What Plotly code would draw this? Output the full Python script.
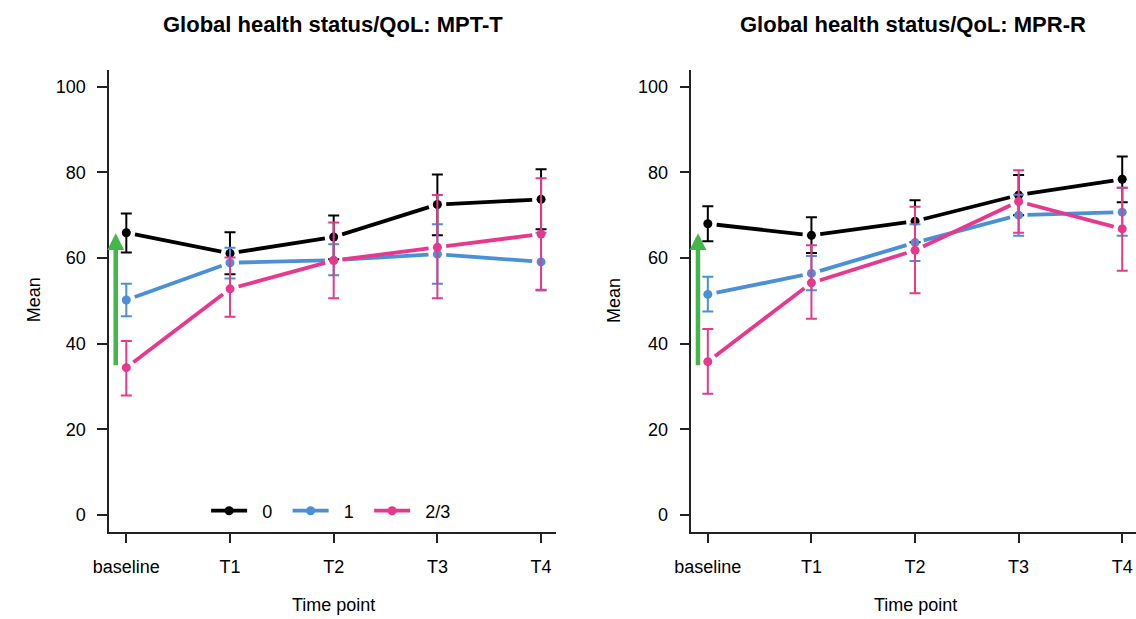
import math
import plotly.graph_objects as go

# ---------------- data ----------------
time_labels = ["baseline", "T1", "T2", "T3", "T4"]
time_pos = [1, 2, 3, 4, 5]
groups = ["0", "1", "2/3"]

# Left panel: MPT-T
mpt_mean_0 = [65.9, 61.1, 64.9, 72.5, 73.7]
mpt_upper_0 = [70.4, 66.0, 69.9, 79.5, 80.7]
mpt_lower_0 = [61.3, 56.2, 59.7, 65.3, 66.7]
mpt_mean_1 = [50.2, 58.9, 59.5, 60.9, 59.1]
mpt_upper_1 = [54.0, 62.4, 63.2, 67.9, 65.9]
mpt_lower_1 = [46.4, 55.2, 56.0, 54.0, 52.4]
mpt_mean_23 = [34.4, 52.8, 59.4, 62.5, 65.6]
mpt_upper_23 = [40.6, 60.1, 68.3, 74.7, 78.6]
mpt_lower_23 = [27.9, 46.3, 50.6, 50.6, 52.6]

# Right panel: MPR-R
mpr_mean_0 = [68.0, 65.3, 68.6, 74.7, 78.4]
mpr_upper_0 = [72.1, 69.5, 73.5, 79.4, 83.7]
mpr_lower_0 = [63.9, 61.2, 63.7, 70.0, 73.0]
mpr_mean_1 = [51.5, 56.4, 63.6, 70.0, 70.7]
mpr_upper_1 = [55.6, 60.5, 67.9, 74.8, 76.4]
mpr_lower_1 = [47.5, 52.5, 59.3, 65.2, 65.2]
mpr_mean_23 = [35.8, 54.2, 61.8, 73.2, 66.8]
mpr_upper_23 = [43.4, 63.0, 72.0, 80.5, 76.4]
mpr_lower_23 = [28.3, 45.8, 51.8, 65.9, 57.0]

# green arrow (baseline shift) start / end values
arrow_from = 34.6
arrow_to = 65.8

titles = ["Global health status/QoL: MPT-T", "Global health status/QoL: MPR-R"]

# ---------------- styling ----------------
W, H = 1136, 619
FONT = "Liberation Sans, Arial, sans-serif"
colors = ["#000000", "#4A90D6", "#E8388D"]
GREEN = "#45B649"

panels = [
    dict(means=[mpt_mean_0, mpt_mean_1, mpt_mean_23],
         uppers=[mpt_upper_0, mpt_upper_1, mpt_upper_23],
         lowers=[mpt_lower_0, mpt_lower_1, mpt_lower_23],
         xdom=[93.5 / W, 547.5 / W], xrange=[0.834, 5.147],
         arrow_x=0.898, title_x=320.5 / W, mean_x=17.5 / W),
    dict(means=[mpr_mean_0, mpr_mean_1, mpr_mean_23],
         uppers=[mpr_upper_0, mpr_upper_1, mpr_upper_23],
         lowers=[mpr_lower_0, mpr_lower_1, mpr_lower_23],
         xdom=[684.7 / W, 1.0], xrange=[0.842, 5.133],
         arrow_x=0.905, title_x=910 / W, mean_x=606 / W),
]
ydom = [1 - 531.7 / H, 1 - 70 / H]
yrange = [-3.9, 103.9]


def gapped(xs, ys, pxx, pxy, gap=9.0):
    gx, gy = [], []
    for i in range(len(xs) - 1):
        dx = (xs[i + 1] - xs[i]) * pxx
        dy = (ys[i + 1] - ys[i]) * pxy
        L = math.hypot(dx, dy)
        f = gap / L
        gx += [xs[i] + (xs[i + 1] - xs[i]) * f, xs[i + 1] - (xs[i + 1] - xs[i]) * f, None]
        gy += [ys[i] + (ys[i + 1] - ys[i]) * f, ys[i + 1] - (ys[i + 1] - ys[i]) * f, None]
    return gx, gy


fig = go.Figure()
annotations = []

for p_i, p in enumerate(panels):
    xa = "x" if p_i == 0 else "x2"
    ya = "y" if p_i == 0 else "y2"
    pxx = (p["xdom"][1] - p["xdom"][0]) * W / (p["xrange"][1] - p["xrange"][0])
    pxy = (ydom[1] - ydom[0]) * H / (yrange[1] - yrange[0])
    for g_i in range(3):
        m = p["means"][g_i]
        up = [u - v for u, v in zip(p["uppers"][g_i], m)]
        dn = [v - l for v, l in zip(m, p["lowers"][g_i])]
        gx, gy = gapped(time_pos, m, pxx, pxy)
        fig.add_trace(go.Scatter(
            x=gx, y=gy, mode="lines", xaxis=xa, yaxis=ya,
            line=dict(color=colors[g_i], width=3.8), showlegend=False,
            hoverinfo="skip"))
        fig.add_trace(go.Scatter(
            x=time_pos, y=m, mode="markers", xaxis=xa, yaxis=ya,
            marker=dict(color=colors[g_i], size=9),
            error_y=dict(type="data", symmetric=False, array=up, arrayminus=dn,
                         color=colors[g_i], thickness=2, width=5.5),
            showlegend=False, name=groups[g_i]))
    # green arrow
    annotations.append(dict(
        x=p["arrow_x"], y=arrow_to, ax=p["arrow_x"], ay=arrow_from,
        xref=xa, yref=ya, axref=xa, ayref=ya, text="", showarrow=True,
        arrowhead=2, arrowsize=0.75, arrowwidth=4.5, arrowcolor=GREEN, standoff=0))
    # titles
    annotations.append(dict(
        x=p["title_x"], y=1 - 24.5 / H, xref="paper", yref="paper",
        text="<b>" + titles[p_i] + "</b>", showarrow=False,
        font=dict(family=FONT, size=22, color="black"),
        xanchor="center", yanchor="middle"))
    annotations.append(dict(
        x=(p["xdom"][0] + (1 - p["xrange"][0]) * pxx / W) + 2 * pxx / W,
        y=1 - 605 / H, xref="paper", yref="paper",
        text="Time point", showarrow=False,
        font=dict(family=FONT, size=18, color="black"),
        xanchor="center", yanchor="middle"))
    annotations.append(dict(
        x=p["mean_x"], y=1 - 300 / H, xref="paper", yref="paper",
        text="Mean", showarrow=False, textangle=-90,
        font=dict(family=FONT, size=18, color="black"),
        xanchor="center", yanchor="middle"))

# legend entries
NB = "\u00a0\u00a0"
for g_i in range(3):
    fig.add_trace(go.Scatter(
        x=[None], y=[None], mode="lines+markers", name=NB + groups[g_i],
        line=dict(color=colors[g_i], width=3.8),
        marker=dict(color=colors[g_i], size=9), showlegend=True))

axis_common = dict(showgrid=False, zeroline=False, showline=True,
                   linecolor="#222222", linewidth=1.5, ticks="outside",
                   ticklen=10, tickwidth=1.5, tickcolor="#222222",
                   tickfont=dict(family=FONT, size=18, color="black"))

fig.update_layout(
    width=W, height=H, margin=dict(l=0, r=0, t=0, b=0),
    paper_bgcolor="white", plot_bgcolor="white",
    font=dict(family=FONT, size=18, color="black"),
    showlegend=True,
    legend=dict(orientation="h", x=192 / W, y=1 - 511 / H, xanchor="left",
                yanchor="middle", bgcolor="rgba(255,255,255,0)",
                font=dict(family=FONT, size=18, color="black"),
                itemwidth=36, entrywidth=30.5, entrywidthmode="pixels"),
    annotations=annotations,
    xaxis=dict(domain=panels[0]["xdom"], range=panels[0]["xrange"],
               tickvals=time_pos, ticktext=time_labels, anchor="y",
               ticklabelstandoff=8, **axis_common),
    yaxis=dict(domain=ydom, range=yrange, tickvals=[0, 20, 40, 60, 80, 100],
               anchor="x", ticklabelstandoff=8, **axis_common),
    xaxis2=dict(domain=panels[1]["xdom"], range=panels[1]["xrange"],
                tickvals=time_pos, ticktext=time_labels, anchor="y2",
                ticklabelstandoff=8, **axis_common),
    yaxis2=dict(domain=ydom, range=yrange, tickvals=[0, 20, 40, 60, 80, 100],
                anchor="x2", ticklabelstandoff=8, **axis_common),
)

fig.write_html("out.html",
               config={"displayModeBar": False},
               post_script="document.body.style.margin='0px';"
                           "document.body.style.overflow='hidden';")
